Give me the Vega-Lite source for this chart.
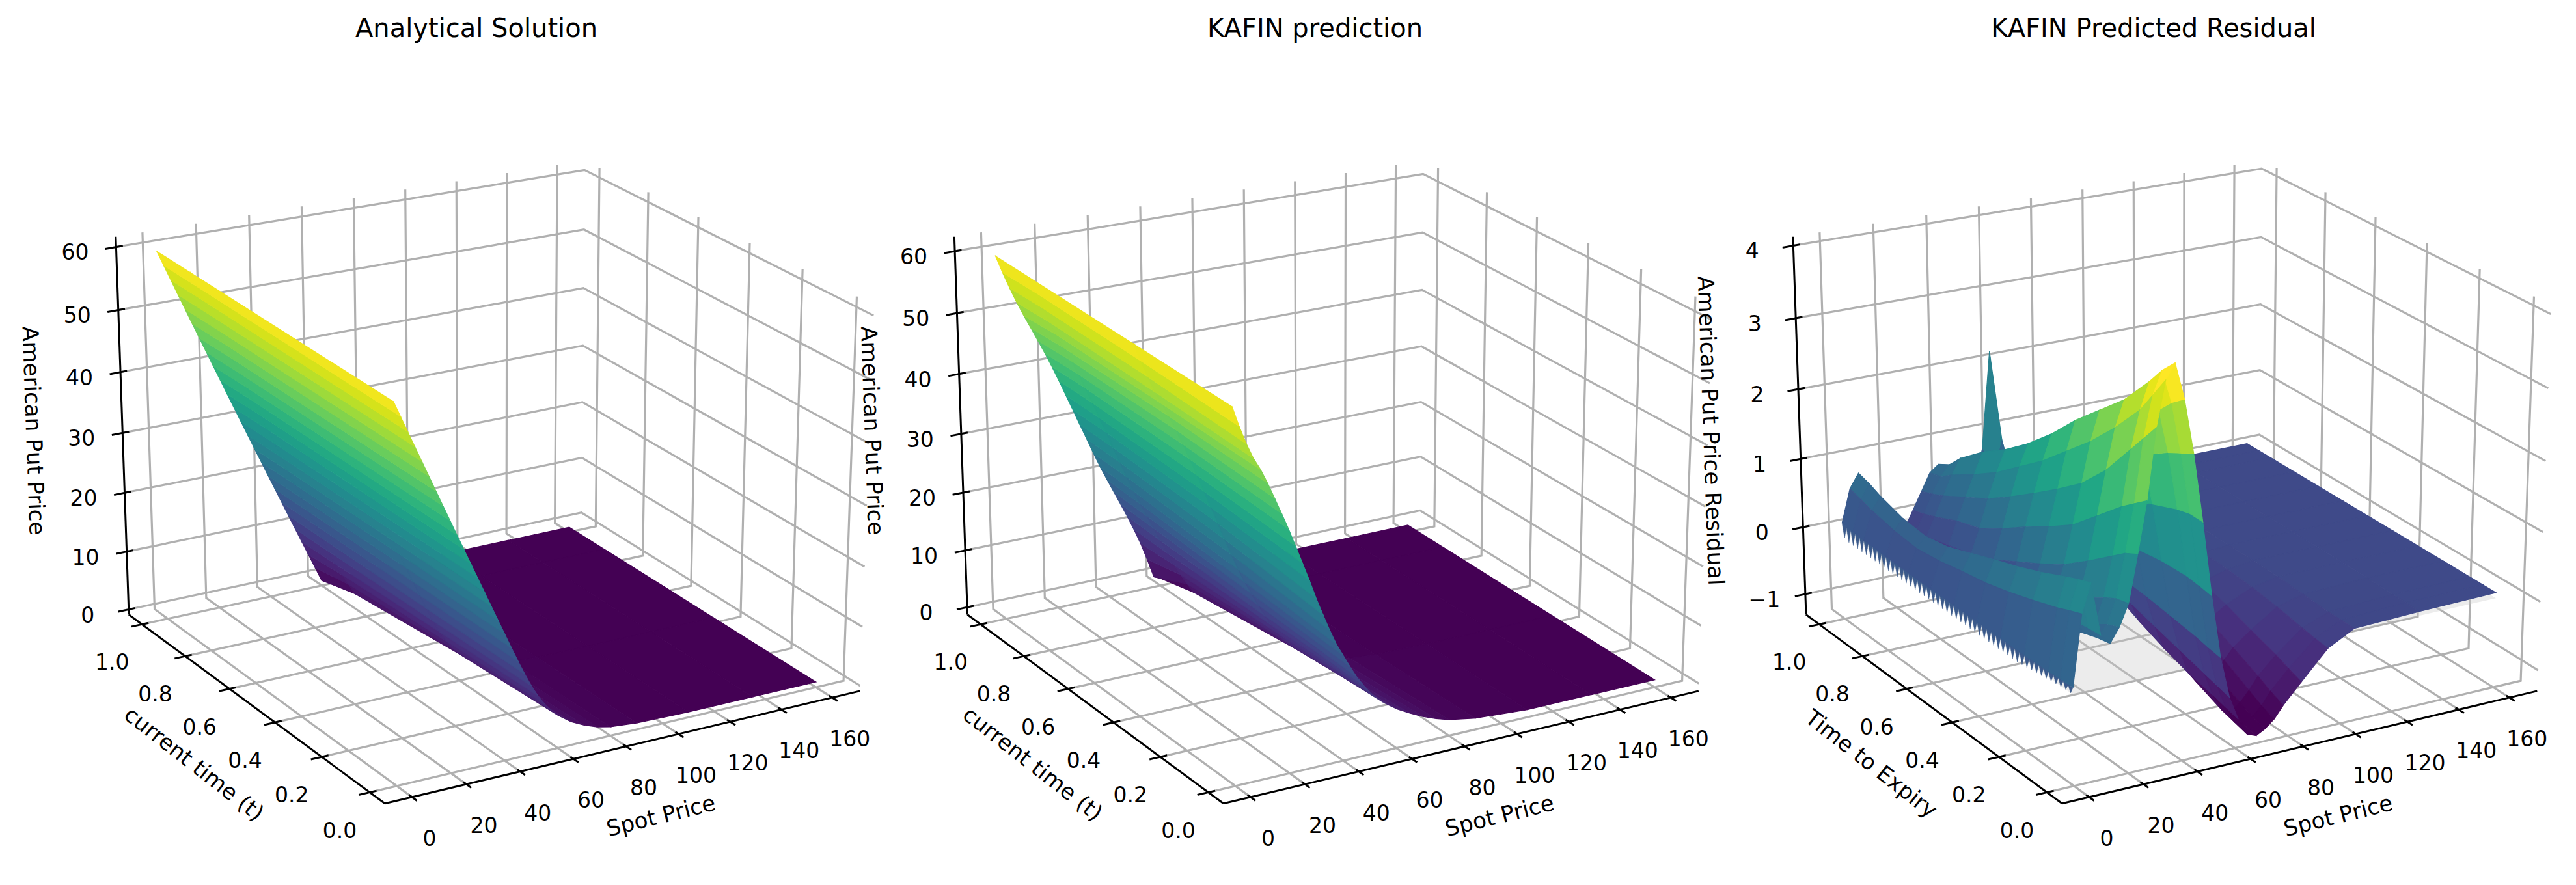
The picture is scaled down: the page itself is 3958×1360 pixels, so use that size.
{"$schema":"https://vega.github.io/schema/vega-lite/v6.json","width":3958,"height":1360,"padding":0,"autosize":{"type":"fit","contains":"padding"},"background":"white","config":{"view":{"stroke":null}},
"data":{"values":[
{"p":1,"k":"S","v":0},{"p":1,"k":"S","v":20},{"p":1,"k":"S","v":40},{"p":1,"k":"S","v":60},{"p":1,"k":"S","v":80},{"p":1,"k":"S","v":100},{"p":1,"k":"S","v":120},{"p":1,"k":"S","v":140},{"p":1,"k":"S","v":160},
{"p":2,"k":"S","v":0},{"p":2,"k":"S","v":20},{"p":2,"k":"S","v":40},{"p":2,"k":"S","v":60},{"p":2,"k":"S","v":80},{"p":2,"k":"S","v":100},{"p":2,"k":"S","v":120},{"p":2,"k":"S","v":140},{"p":2,"k":"S","v":160},
{"p":3,"k":"S","v":0},{"p":3,"k":"S","v":20},{"p":3,"k":"S","v":40},{"p":3,"k":"S","v":60},{"p":3,"k":"S","v":80},{"p":3,"k":"S","v":100},{"p":3,"k":"S","v":120},{"p":3,"k":"S","v":140},{"p":3,"k":"S","v":160},
{"p":1,"k":"T","v":0},{"p":1,"k":"T","v":0.2},{"p":1,"k":"T","v":0.4},{"p":1,"k":"T","v":0.6},{"p":1,"k":"T","v":0.8},{"p":1,"k":"T","v":1},
{"p":2,"k":"T","v":0},{"p":2,"k":"T","v":0.2},{"p":2,"k":"T","v":0.4},{"p":2,"k":"T","v":0.6},{"p":2,"k":"T","v":0.8},{"p":2,"k":"T","v":1},
{"p":3,"k":"T","v":0},{"p":3,"k":"T","v":0.2},{"p":3,"k":"T","v":0.4},{"p":3,"k":"T","v":0.6},{"p":3,"k":"T","v":0.8},{"p":3,"k":"T","v":1},
{"p":1,"k":"Z","v":0},{"p":1,"k":"Z","v":10},{"p":1,"k":"Z","v":20},{"p":1,"k":"Z","v":30},{"p":1,"k":"Z","v":40},{"p":1,"k":"Z","v":50},{"p":1,"k":"Z","v":60},
{"p":2,"k":"Z","v":0},{"p":2,"k":"Z","v":10},{"p":2,"k":"Z","v":20},{"p":2,"k":"Z","v":30},{"p":2,"k":"Z","v":40},{"p":2,"k":"Z","v":50},{"p":2,"k":"Z","v":60},
{"p":3,"k":"Z","v":-1},{"p":3,"k":"Z","v":0},{"p":3,"k":"Z","v":1},{"p":3,"k":"Z","v":2},{"p":3,"k":"Z","v":3},{"p":3,"k":"Z","v":4},
{"p":1,"k":"A","v":0},{"p":1,"k":"A","v":1},{"p":1,"k":"A","v":2},{"p":2,"k":"A","v":0},{"p":2,"k":"A","v":1},{"p":2,"k":"A","v":2},{"p":3,"k":"A","v":0},{"p":3,"k":"A","v":1},{"p":3,"k":"A","v":2},
{"p":1,"k":"H","txt":"Analytical Solution"},{"p":2,"k":"H","txt":"KAFIN prediction"},{"p":3,"k":"H","txt":"KAFIN Predicted Residual"},
{"p":1,"k":"LS","txt":"Spot Price"},{"p":2,"k":"LS","txt":"Spot Price"},{"p":3,"k":"LS","txt":"Spot Price"},
{"p":1,"k":"LT","txt":"current time (t)"},{"p":2,"k":"LT","txt":"current time (t)"},{"p":3,"k":"LT","txt":"Time to Expiry"},
{"p":1,"k":"LZ","txt":"American Put Price"},{"p":2,"k":"LZ","txt":"American Put Price"},{"p":3,"k":"LZ","txt":"American Put Price Residual"},
{"p":3,"k":"G","n":0,"S":0,"t":0,"z":0},{"p":3,"k":"G","n":1,"S":160,"t":0,"z":0},{"p":3,"k":"G","n":2,"S":160,"t":1,"z":0},{"p":3,"k":"G","n":3,"S":0,"t":1,"z":0},
{"p":3,"k":"W","S":0,"t":1,"z":0.12},{"p":3,"k":"W","S":0,"t":0.99,"z":-0.08},{"p":3,"k":"W","S":0,"t":0.98,"z":0.1},{"p":3,"k":"W","S":0,"t":0.97,"z":-0.1},{"p":3,"k":"W","S":0,"t":0.96,"z":0.1},{"p":3,"k":"W","S":0,"t":0.95,"z":-0.1},{"p":3,"k":"W","S":0,"t":0.94,"z":0.1},{"p":3,"k":"W","S":0,"t":0.93,"z":-0.1},{"p":3,"k":"W","S":0,"t":0.92,"z":0.1},{"p":3,"k":"W","S":0,"t":0.91,"z":-0.1},{"p":3,"k":"W","S":0,"t":0.9,"z":0.09},{"p":3,"k":"W","S":0,"t":0.89,"z":-0.1},{"p":3,"k":"W","S":0,"t":0.88,"z":0.09},{"p":3,"k":"W","S":0,"t":0.87,"z":-0.1},{"p":3,"k":"W","S":0,"t":0.86,"z":0.09},{"p":3,"k":"W","S":0,"t":0.85,"z":-0.1},{"p":3,"k":"W","S":0,"t":0.84,"z":0.09},{"p":3,"k":"W","S":0,"t":0.83,"z":-0.1},{"p":3,"k":"W","S":0,"t":0.82,"z":0.08},{"p":3,"k":"W","S":0,"t":0.81,"z":-0.1},{"p":3,"k":"W","S":0,"t":0.8,"z":0.08},{"p":3,"k":"W","S":0,"t":0.79,"z":-0.1},{"p":3,"k":"W","S":0,"t":0.78,"z":0.08},{"p":3,"k":"W","S":0,"t":0.77,"z":-0.1},{"p":3,"k":"W","S":0,"t":0.76,"z":0.08},{"p":3,"k":"W","S":0,"t":0.75,"z":-0.1},{"p":3,"k":"W","S":0,"t":0.74,"z":0.08},{"p":3,"k":"W","S":0,"t":0.73,"z":-0.1},{"p":3,"k":"W","S":0,"t":0.72,"z":0.08},{"p":3,"k":"W","S":0,"t":0.71,"z":-0.1},{"p":3,"k":"W","S":0,"t":0.7,"z":0.07},{"p":3,"k":"W","S":0,"t":0.69,"z":-0.1},{"p":3,"k":"W","S":0,"t":0.68,"z":0.07},{"p":3,"k":"W","S":0,"t":0.67,"z":-0.1},{"p":3,"k":"W","S":0,"t":0.66,"z":0.07},{"p":3,"k":"W","S":0,"t":0.65,"z":-0.1},{"p":3,"k":"W","S":0,"t":0.64,"z":0.07},{"p":3,"k":"W","S":0,"t":0.63,"z":-0.1},{"p":3,"k":"W","S":0,"t":0.62,"z":0.07},{"p":3,"k":"W","S":0,"t":0.61,"z":-0.1},{"p":3,"k":"W","S":0,"t":0.6,"z":0.07},{"p":3,"k":"W","S":0,"t":0.59,"z":-0.1},{"p":3,"k":"W","S":0,"t":0.58,"z":0.07},{"p":3,"k":"W","S":0,"t":0.57,"z":-0.1},{"p":3,"k":"W","S":0,"t":0.56,"z":0.07},{"p":3,"k":"W","S":0,"t":0.55,"z":-0.1},{"p":3,"k":"W","S":0,"t":0.54,"z":0.07},{"p":3,"k":"W","S":0,"t":0.53,"z":-0.1},{"p":3,"k":"W","S":0,"t":0.52,"z":0.07},{"p":3,"k":"W","S":0,"t":0.51,"z":-0.1},{"p":3,"k":"W","S":0,"t":0.5,"z":0.07},{"p":3,"k":"W","S":0,"t":0.49,"z":-0.1},{"p":3,"k":"W","S":0,"t":0.48,"z":0.07},{"p":3,"k":"W","S":0,"t":0.47,"z":-0.1},{"p":3,"k":"W","S":0,"t":0.46,"z":0.07},{"p":3,"k":"W","S":0,"t":0.45,"z":-0.1},{"p":3,"k":"W","S":0,"t":0.44,"z":0.07},{"p":3,"k":"W","S":0,"t":0.43,"z":-0.1},{"p":3,"k":"W","S":0,"t":0.42,"z":0.07},{"p":3,"k":"W","S":0,"t":0.41,"z":-0.1},{"p":3,"k":"W","S":0,"t":0.4,"z":0.07},{"p":3,"k":"W","S":0,"t":0.39,"z":-0.1},{"p":3,"k":"W","S":0,"t":0.38,"z":0.07},{"p":3,"k":"W","S":0,"t":0.37,"z":-0.1},{"p":3,"k":"W","S":0,"t":0.36,"z":0.07},{"p":3,"k":"W","S":0,"t":0.35,"z":-0.1},{"p":3,"k":"W","S":0,"t":0.34,"z":0.07},{"p":3,"k":"W","S":0,"t":0.33,"z":-0.1},{"p":3,"k":"W","S":0,"t":0.32,"z":0.07},{"p":3,"k":"W","S":0,"t":0.31,"z":-0.1},{"p":3,"k":"W","S":0,"t":0.3,"z":0.07},{"p":3,"k":"W","S":0,"t":0.29,"z":-0.1},{"p":3,"k":"W","S":0,"t":0.28,"z":0.07},{"p":3,"k":"W","S":0,"t":0.27,"z":-0.1},{"p":3,"k":"W","S":0,"t":0.26,"z":0.07},{"p":3,"k":"W","S":0,"t":0.25,"z":-0.1},{"p":3,"k":"W","S":0,"t":0.24,"z":0.07},{"p":3,"k":"W","S":0,"t":0.23,"z":-0.1},{"p":3,"k":"W","S":0,"t":0.22,"z":0.07},{"p":3,"k":"W","S":0,"t":0.21,"z":-0.09},{"p":3,"k":"W","S":0,"t":0.2,"z":0.07},{"p":3,"k":"W","S":0,"t":0.19,"z":-0.08},{"p":3,"k":"W","S":0,"t":0.18,"z":0.07},{"p":3,"k":"W","S":0,"t":0.17,"z":-0.07},{"p":3,"k":"W","S":0,"t":0.16,"z":0.07},{"p":3,"k":"W","S":0,"t":0.15,"z":-0.06},{"p":3,"k":"W","S":0,"t":0.14,"z":0.08},{"p":3,"k":"W","S":0,"t":0.13,"z":-0.05},{"p":3,"k":"W","S":0,"t":0.12,"z":0.08},{"p":3,"k":"W","S":0,"t":0.11,"z":-0.04},{"p":3,"k":"W","S":0,"t":0.1,"z":0.08},{"p":3,"k":"W","S":0,"t":0.09,"z":-0.03},{"p":3,"k":"W","S":0,"t":0.08,"z":0.08},{"p":3,"k":"W","S":0,"t":0.07,"z":-0.02},{"p":3,"k":"W","S":0,"t":0.06,"z":0.09},{"p":3,"k":"W","S":0,"t":0.05,"z":-0.01},{"p":3,"k":"W","S":0,"t":0.04,"z":0.09},{"p":3,"k":"W","S":0,"t":0.03,"z":0},{"p":3,"k":"W","S":0,"t":0.02,"z":0.09},{"p":3,"k":"W","S":0,"t":0.01,"z":0},{"p":3,"k":"W","S":0,"t":0,"z":0.1},

{"p":1,"S":160,"t":1,"z":0},{"p":1,"S":160,"t":0.85,"z":0},{"p":1,"S":160,"t":0.4,"z":0},{"p":1,"S":160,"t":0,"z":0},
{"p":1,"S":135,"t":1,"z":0},{"p":1,"S":135,"t":0.85,"z":0},{"p":1,"S":135,"t":0.4,"z":0},{"p":1,"S":135,"t":0,"z":0},
{"p":1,"S":110,"t":1,"z":0},{"p":1,"S":110,"t":0.85,"z":0},{"p":1,"S":110,"t":0.4,"z":0},{"p":1,"S":110,"t":0,"z":0},
{"p":1,"S":90,"t":1,"z":0},{"p":1,"S":90,"t":0.85,"z":0},{"p":1,"S":90,"t":0.4,"z":0.07},{"p":1,"S":90,"t":0,"z":0.2},
{"p":1,"S":80,"t":1,"z":0},{"p":1,"S":80,"t":0.85,"z":0},{"p":1,"S":80,"t":0.4,"z":0.3},{"p":1,"S":80,"t":0,"z":0.6},
{"p":1,"S":75,"t":1,"z":0},{"p":1,"S":75,"t":0.85,"z":0.05},{"p":1,"S":75,"t":0.4,"z":0.6},{"p":1,"S":75,"t":0,"z":1.1},
{"p":1,"S":70,"t":1,"z":0},{"p":1,"S":70,"t":0.85,"z":0.2},{"p":1,"S":70,"t":0.4,"z":1.1},{"p":1,"S":70,"t":0,"z":1.9},
{"p":1,"S":65,"t":1,"z":0},{"p":1,"S":65,"t":0.85,"z":0.6},{"p":1,"S":65,"t":0.4,"z":2},{"p":1,"S":65,"t":0,"z":3},
{"p":1,"S":60,"t":1,"z":0},{"p":1,"S":60,"t":0.85,"z":1.7},{"p":1,"S":60,"t":0.4,"z":3.6},{"p":1,"S":60,"t":0,"z":4.6},
{"p":1,"S":57.5,"t":1,"z":2.5},{"p":1,"S":57.5,"t":0.85,"z":3.6},{"p":1,"S":57.5,"t":0.4,"z":4.8},{"p":1,"S":57.5,"t":0,"z":5.7},
{"p":1,"S":55,"t":1,"z":5},{"p":1,"S":55,"t":0.85,"z":5.5},{"p":1,"S":55,"t":0.4,"z":6.3},{"p":1,"S":55,"t":0,"z":7},
{"p":1,"S":52.5,"t":1,"z":7.5},{"p":1,"S":52.5,"t":0.85,"z":7.6},{"p":1,"S":52.5,"t":0.4,"z":8.1},{"p":1,"S":52.5,"t":0,"z":8.6},
{"p":1,"S":50,"t":1,"z":10},{"p":1,"S":50,"t":0.85,"z":10},{"p":1,"S":50,"t":0.4,"z":10.2},{"p":1,"S":50,"t":0,"z":10.5},
{"p":1,"S":47.5,"t":1,"z":12.5},{"p":1,"S":47.5,"t":0.85,"z":12.5},{"p":1,"S":47.5,"t":0.4,"z":12.55},{"p":1,"S":47.5,"t":0,"z":12.7},
{"p":1,"S":45,"t":1,"z":15},{"p":1,"S":45,"t":0.85,"z":15},{"p":1,"S":45,"t":0.4,"z":15},{"p":1,"S":45,"t":0,"z":15.05},
{"p":1,"S":42.5,"t":1,"z":17.5},{"p":1,"S":42.5,"t":0.85,"z":17.5},{"p":1,"S":42.5,"t":0.4,"z":17.5},{"p":1,"S":42.5,"t":0,"z":17.5},
{"p":1,"S":40,"t":1,"z":20},{"p":1,"S":40,"t":0.85,"z":20},{"p":1,"S":40,"t":0.4,"z":20},{"p":1,"S":40,"t":0,"z":20},
{"p":1,"S":37.5,"t":1,"z":22.5},{"p":1,"S":37.5,"t":0.85,"z":22.5},{"p":1,"S":37.5,"t":0.4,"z":22.5},{"p":1,"S":37.5,"t":0,"z":22.5},
{"p":1,"S":35,"t":1,"z":25},{"p":1,"S":35,"t":0.85,"z":25},{"p":1,"S":35,"t":0.4,"z":25},{"p":1,"S":35,"t":0,"z":25},
{"p":1,"S":32.5,"t":1,"z":27.5},{"p":1,"S":32.5,"t":0.85,"z":27.5},{"p":1,"S":32.5,"t":0.4,"z":27.5},{"p":1,"S":32.5,"t":0,"z":27.5},
{"p":1,"S":30,"t":1,"z":30},{"p":1,"S":30,"t":0.85,"z":30},{"p":1,"S":30,"t":0.4,"z":30},{"p":1,"S":30,"t":0,"z":30},
{"p":1,"S":27.5,"t":1,"z":32.5},{"p":1,"S":27.5,"t":0.85,"z":32.5},{"p":1,"S":27.5,"t":0.4,"z":32.5},{"p":1,"S":27.5,"t":0,"z":32.5},
{"p":1,"S":25,"t":1,"z":35},{"p":1,"S":25,"t":0.85,"z":35},{"p":1,"S":25,"t":0.4,"z":35},{"p":1,"S":25,"t":0,"z":35},
{"p":1,"S":22.5,"t":1,"z":37.5},{"p":1,"S":22.5,"t":0.85,"z":37.5},{"p":1,"S":22.5,"t":0.4,"z":37.5},{"p":1,"S":22.5,"t":0,"z":37.5},
{"p":1,"S":20,"t":1,"z":40},{"p":1,"S":20,"t":0.85,"z":40},{"p":1,"S":20,"t":0.4,"z":40},{"p":1,"S":20,"t":0,"z":40},
{"p":1,"S":17.5,"t":1,"z":42.5},{"p":1,"S":17.5,"t":0.85,"z":42.5},{"p":1,"S":17.5,"t":0.4,"z":42.5},{"p":1,"S":17.5,"t":0,"z":42.5},
{"p":1,"S":15,"t":1,"z":45},{"p":1,"S":15,"t":0.85,"z":45},{"p":1,"S":15,"t":0.4,"z":45},{"p":1,"S":15,"t":0,"z":45},
{"p":1,"S":12.5,"t":1,"z":47.5},{"p":1,"S":12.5,"t":0.85,"z":47.5},{"p":1,"S":12.5,"t":0.4,"z":47.5},{"p":1,"S":12.5,"t":0,"z":47.5},
{"p":1,"S":10,"t":1,"z":50},{"p":1,"S":10,"t":0.85,"z":50},{"p":1,"S":10,"t":0.4,"z":50},{"p":1,"S":10,"t":0,"z":50},
{"p":1,"S":7.5,"t":1,"z":52.5},{"p":1,"S":7.5,"t":0.85,"z":52.5},{"p":1,"S":7.5,"t":0.4,"z":52.5},{"p":1,"S":7.5,"t":0,"z":52.5},
{"p":1,"S":5,"t":1,"z":55},{"p":1,"S":5,"t":0.85,"z":55},{"p":1,"S":5,"t":0.4,"z":55},{"p":1,"S":5,"t":0,"z":55},
{"p":1,"S":2.5,"t":1,"z":57.5},{"p":1,"S":2.5,"t":0.85,"z":57.5},{"p":1,"S":2.5,"t":0.4,"z":57.5},{"p":1,"S":2.5,"t":0,"z":57.5},
{"p":1,"S":0,"t":1,"z":60},{"p":1,"S":0,"t":0.85,"z":60},{"p":1,"S":0,"t":0.4,"z":60},{"p":1,"S":0,"t":0,"z":60},

{"p":2,"S":160,"t":1,"z":0},{"p":2,"S":160,"t":0.85,"z":0},{"p":2,"S":160,"t":0.4,"z":0},{"p":2,"S":160,"t":0,"z":0},
{"p":2,"S":135,"t":1,"z":0},{"p":2,"S":135,"t":0.85,"z":0},{"p":2,"S":135,"t":0.4,"z":0},{"p":2,"S":135,"t":0,"z":0},
{"p":2,"S":110,"t":1,"z":0},{"p":2,"S":110,"t":0.85,"z":0},{"p":2,"S":110,"t":0.4,"z":0},{"p":2,"S":110,"t":0,"z":0},
{"p":2,"S":90,"t":1,"z":0},{"p":2,"S":90,"t":0.85,"z":0},{"p":2,"S":90,"t":0.4,"z":0.15},{"p":2,"S":90,"t":0,"z":0.65},
{"p":2,"S":80,"t":1,"z":0},{"p":2,"S":80,"t":0.85,"z":0},{"p":2,"S":80,"t":0.4,"z":0.5},{"p":2,"S":80,"t":0,"z":1.45},
{"p":2,"S":75,"t":1,"z":0},{"p":2,"S":75,"t":0.85,"z":0.05},{"p":2,"S":75,"t":0.4,"z":0.95},{"p":2,"S":75,"t":0,"z":2.15},
{"p":2,"S":70,"t":1,"z":0},{"p":2,"S":70,"t":0.85,"z":0.2},{"p":2,"S":70,"t":0.4,"z":1.75},{"p":2,"S":70,"t":0,"z":3.05},
{"p":2,"S":65,"t":1,"z":0},{"p":2,"S":65,"t":0.85,"z":0.57},{"p":2,"S":65,"t":0.4,"z":2.55},{"p":2,"S":65,"t":0,"z":4.15},
{"p":2,"S":60,"t":1,"z":0},{"p":2,"S":60,"t":0.85,"z":1.6},{"p":2,"S":60,"t":0.4,"z":3.95},{"p":2,"S":60,"t":0,"z":5.4},
{"p":2,"S":57.5,"t":1,"z":0.5},{"p":2,"S":57.5,"t":0.85,"z":3.35},{"p":2,"S":57.5,"t":0.4,"z":4.9},{"p":2,"S":57.5,"t":0,"z":6.2},
{"p":2,"S":55,"t":1,"z":3.9},{"p":2,"S":55,"t":0.85,"z":5.2},{"p":2,"S":55,"t":0.4,"z":6.1},{"p":2,"S":55,"t":0,"z":7},
{"p":2,"S":52.5,"t":1,"z":7},{"p":2,"S":52.5,"t":0.85,"z":7.2},{"p":2,"S":52.5,"t":0.4,"z":7.55},{"p":2,"S":52.5,"t":0,"z":8.05},
{"p":2,"S":50,"t":1,"z":9.73},{"p":2,"S":50,"t":0.85,"z":9.5},{"p":2,"S":50,"t":0.4,"z":9.25},{"p":2,"S":50,"t":0,"z":9.25},
{"p":2,"S":47.5,"t":1,"z":12.25},{"p":2,"S":47.5,"t":0.85,"z":11.9},{"p":2,"S":47.5,"t":0.4,"z":11.1},{"p":2,"S":47.5,"t":0,"z":10.7},
{"p":2,"S":45,"t":1,"z":14.65},{"p":2,"S":45,"t":0.85,"z":14.25},{"p":2,"S":45,"t":0.4,"z":13.15},{"p":2,"S":45,"t":0,"z":12.35},
{"p":2,"S":42.5,"t":1,"z":17},{"p":2,"S":42.5,"t":0.85,"z":16.6},{"p":2,"S":42.5,"t":0.4,"z":15.35},{"p":2,"S":42.5,"t":0,"z":14.3},
{"p":2,"S":40,"t":1,"z":19.35},{"p":2,"S":40,"t":0.85,"z":18.95},{"p":2,"S":40,"t":0.4,"z":17.55},{"p":2,"S":40,"t":0,"z":16.4},
{"p":2,"S":37.5,"t":1,"z":21.75},{"p":2,"S":37.5,"t":0.85,"z":21.35},{"p":2,"S":37.5,"t":0.4,"z":19.9},{"p":2,"S":37.5,"t":0,"z":18.5},
{"p":2,"S":35,"t":1,"z":24.35},{"p":2,"S":35,"t":0.85,"z":24},{"p":2,"S":35,"t":0.4,"z":22.7},{"p":2,"S":35,"t":0,"z":21.1},
{"p":2,"S":32.5,"t":1,"z":27.05},{"p":2,"S":32.5,"t":0.85,"z":26.7},{"p":2,"S":32.5,"t":0.4,"z":25.5},{"p":2,"S":32.5,"t":0,"z":23.9},
{"p":2,"S":30,"t":1,"z":29.7},{"p":2,"S":30,"t":0.85,"z":29.45},{"p":2,"S":30,"t":0.4,"z":28.4},{"p":2,"S":30,"t":0,"z":26.8},
{"p":2,"S":27.5,"t":1,"z":32.4},{"p":2,"S":27.5,"t":0.85,"z":32.2},{"p":2,"S":27.5,"t":0.4,"z":31.25},{"p":2,"S":27.5,"t":0,"z":30},
{"p":2,"S":25,"t":1,"z":35.05},{"p":2,"S":25,"t":0.85,"z":34.85},{"p":2,"S":25,"t":0.4,"z":34.1},{"p":2,"S":25,"t":0,"z":33},
{"p":2,"S":22.5,"t":1,"z":37.7},{"p":2,"S":22.5,"t":0.85,"z":37.55},{"p":2,"S":22.5,"t":0.4,"z":36.95},{"p":2,"S":22.5,"t":0,"z":36},
{"p":2,"S":20,"t":1,"z":40.25},{"p":2,"S":20,"t":0.85,"z":40.2},{"p":2,"S":20,"t":0.4,"z":39.75},{"p":2,"S":20,"t":0,"z":38.95},
{"p":2,"S":17.5,"t":1,"z":42.65},{"p":2,"S":17.5,"t":0.85,"z":42.7},{"p":2,"S":17.5,"t":0.4,"z":42.4},{"p":2,"S":17.5,"t":0,"z":41.65},
{"p":2,"S":15,"t":1,"z":44.95},{"p":2,"S":15,"t":0.85,"z":45.1},{"p":2,"S":15,"t":0.4,"z":44.95},{"p":2,"S":15,"t":0,"z":44.3},
{"p":2,"S":12.5,"t":1,"z":47.2},{"p":2,"S":12.5,"t":0.85,"z":47.4},{"p":2,"S":12.5,"t":0.4,"z":47.35},{"p":2,"S":12.5,"t":0,"z":46.9},
{"p":2,"S":10,"t":1,"z":49.4},{"p":2,"S":10,"t":0.85,"z":49.7},{"p":2,"S":10,"t":0.4,"z":49.55},{"p":2,"S":10,"t":0,"z":49.25},
{"p":2,"S":7.5,"t":1,"z":51.75},{"p":2,"S":7.5,"t":0.85,"z":51.95},{"p":2,"S":7.5,"t":0.4,"z":51.65},{"p":2,"S":7.5,"t":0,"z":51.2},
{"p":2,"S":5,"t":1,"z":54.3},{"p":2,"S":5,"t":0.85,"z":54.45},{"p":2,"S":5,"t":0.4,"z":54.25},{"p":2,"S":5,"t":0,"z":53.7},
{"p":2,"S":2.5,"t":1,"z":57},{"p":2,"S":2.5,"t":0.85,"z":57.15},{"p":2,"S":2.5,"t":0.4,"z":57},{"p":2,"S":2.5,"t":0,"z":56.6},
{"p":2,"S":0,"t":1,"z":59.9},{"p":2,"S":0,"t":0.85,"z":59.9},{"p":2,"S":0,"t":0.4,"z":59.9},{"p":2,"S":0,"t":0,"z":59.9},

{"p":3,"S":160,"t":1,"z":0.08},{"p":3,"S":160,"t":0.95,"z":0.08},{"p":3,"S":160,"t":0.9,"z":0.08},{"p":3,"S":160,"t":0.8,"z":0.08},{"p":3,"S":160,"t":0.7,"z":0.08},{"p":3,"S":160,"t":0.6,"z":0.08},{"p":3,"S":160,"t":0.5,"z":0.08},{"p":3,"S":160,"t":0.4,"z":0.08},{"p":3,"S":160,"t":0.3,"z":0.08},{"p":3,"S":160,"t":0.2,"z":0.08},{"p":3,"S":160,"t":0.1,"z":0.08},{"p":3,"S":160,"t":0.05,"z":0.08},{"p":3,"S":160,"t":0,"z":0.08},
{"p":3,"S":130,"t":1,"z":0.08},{"p":3,"S":130,"t":0.95,"z":0.08},{"p":3,"S":130,"t":0.9,"z":0.08},{"p":3,"S":130,"t":0.8,"z":0.08},{"p":3,"S":130,"t":0.7,"z":0.08},{"p":3,"S":130,"t":0.6,"z":0.08},{"p":3,"S":130,"t":0.5,"z":0.08},{"p":3,"S":130,"t":0.4,"z":0.08},{"p":3,"S":130,"t":0.3,"z":0.08},{"p":3,"S":130,"t":0.2,"z":0.08},{"p":3,"S":130,"t":0.1,"z":0.07},{"p":3,"S":130,"t":0.05,"z":0.07},{"p":3,"S":130,"t":0,"z":0.06},
{"p":3,"S":105,"t":1,"z":0.08},{"p":3,"S":105,"t":0.95,"z":0.08},{"p":3,"S":105,"t":0.9,"z":0.08},{"p":3,"S":105,"t":0.8,"z":0.08},{"p":3,"S":105,"t":0.7,"z":0.08},{"p":3,"S":105,"t":0.6,"z":0.08},{"p":3,"S":105,"t":0.5,"z":0.08},{"p":3,"S":105,"t":0.4,"z":0.08},{"p":3,"S":105,"t":0.3,"z":0.07},{"p":3,"S":105,"t":0.2,"z":0.05},{"p":3,"S":105,"t":0.1,"z":0.03},{"p":3,"S":105,"t":0.05,"z":0.03},{"p":3,"S":105,"t":0,"z":0.03},
{"p":3,"S":95,"t":1,"z":0.08},{"p":3,"S":95,"t":0.95,"z":0.08},{"p":3,"S":95,"t":0.9,"z":0.08},{"p":3,"S":95,"t":0.8,"z":0.08},{"p":3,"S":95,"t":0.7,"z":0.08},{"p":3,"S":95,"t":0.6,"z":0.07},{"p":3,"S":95,"t":0.5,"z":0.05},{"p":3,"S":95,"t":0.4,"z":0.03},{"p":3,"S":95,"t":0.3,"z":0},{"p":3,"S":95,"t":0.2,"z":-0.05},{"p":3,"S":95,"t":0.1,"z":-0.12},{"p":3,"S":95,"t":0.05,"z":-0.15},{"p":3,"S":95,"t":0,"z":-0.17},
{"p":3,"S":85,"t":1,"z":0.08},{"p":3,"S":85,"t":0.95,"z":0.08},{"p":3,"S":85,"t":0.9,"z":0.08},{"p":3,"S":85,"t":0.8,"z":0.08},{"p":3,"S":85,"t":0.7,"z":0.08},{"p":3,"S":85,"t":0.6,"z":0.05},{"p":3,"S":85,"t":0.5,"z":0},{"p":3,"S":85,"t":0.4,"z":-0.07},{"p":3,"S":85,"t":0.3,"z":-0.17},{"p":3,"S":85,"t":0.2,"z":-0.3},{"p":3,"S":85,"t":0.1,"z":-0.42},{"p":3,"S":85,"t":0.05,"z":-0.5},{"p":3,"S":85,"t":0,"z":-0.57},
{"p":3,"S":78.2,"t":1,"z":0.08},{"p":3,"S":78.2,"t":0.95,"z":0.08},{"p":3,"S":78.2,"t":0.9,"z":0.08},{"p":3,"S":78.2,"t":0.8,"z":0.08},{"p":3,"S":78.2,"t":0.7,"z":0.08},{"p":3,"S":78.2,"t":0.6,"z":0.02},{"p":3,"S":78.2,"t":0.5,"z":-0.07},{"p":3,"S":78.2,"t":0.4,"z":-0.17},{"p":3,"S":78.2,"t":0.3,"z":-0.33},{"p":3,"S":78.2,"t":0.2,"z":-0.5},{"p":3,"S":78.2,"t":0.1,"z":-0.67},{"p":3,"S":78.2,"t":0.05,"z":-0.77},{"p":3,"S":78.2,"t":0,"z":-0.85},
{"p":3,"S":74.8,"t":1,"z":0.08},{"p":3,"S":74.8,"t":0.95,"z":0.08},{"p":3,"S":74.8,"t":0.9,"z":0.08},{"p":3,"S":74.8,"t":0.8,"z":0.08},{"p":3,"S":74.8,"t":0.7,"z":0.05},{"p":3,"S":74.8,"t":0.6,"z":-0.03},{"p":3,"S":74.8,"t":0.5,"z":-0.15},{"p":3,"S":74.8,"t":0.4,"z":-0.28},{"p":3,"S":74.8,"t":0.3,"z":-0.45},{"p":3,"S":74.8,"t":0.2,"z":-0.65},{"p":3,"S":74.8,"t":0.1,"z":-0.85},{"p":3,"S":74.8,"t":0.05,"z":-0.95},{"p":3,"S":74.8,"t":0,"z":-1.02},
{"p":3,"S":71.4,"t":1,"z":0.05},{"p":3,"S":71.4,"t":0.95,"z":0.05},{"p":3,"S":71.4,"t":0.9,"z":0.05},{"p":3,"S":71.4,"t":0.8,"z":0.05},{"p":3,"S":71.4,"t":0.7,"z":0},{"p":3,"S":71.4,"t":0.6,"z":-0.1},{"p":3,"S":71.4,"t":0.5,"z":-0.25},{"p":3,"S":71.4,"t":0.4,"z":-0.4},{"p":3,"S":71.4,"t":0.3,"z":-0.6},{"p":3,"S":71.4,"t":0.2,"z":-0.82},{"p":3,"S":71.4,"t":0.1,"z":-1},{"p":3,"S":71.4,"t":0.05,"z":-1.08},{"p":3,"S":71.4,"t":0,"z":-1.13},
{"p":3,"S":68,"t":1,"z":0.03},{"p":3,"S":68,"t":0.95,"z":0.03},{"p":3,"S":68,"t":0.9,"z":0.03},{"p":3,"S":68,"t":0.8,"z":0.03},{"p":3,"S":68,"t":0.7,"z":-0.03},{"p":3,"S":68,"t":0.6,"z":-0.17},{"p":3,"S":68,"t":0.5,"z":-0.35},{"p":3,"S":68,"t":0.4,"z":-0.55},{"p":3,"S":68,"t":0.3,"z":-0.75},{"p":3,"S":68,"t":0.2,"z":-0.95},{"p":3,"S":68,"t":0.1,"z":-1.1},{"p":3,"S":68,"t":0.05,"z":-1.16},{"p":3,"S":68,"t":0,"z":-1.2},
{"p":3,"S":64.6,"t":1,"z":0.1},{"p":3,"S":64.6,"t":0.95,"z":0.08},{"p":3,"S":64.6,"t":0.9,"z":0.05},{"p":3,"S":64.6,"t":0.8,"z":0.02},{"p":3,"S":64.6,"t":0.7,"z":-0.05},{"p":3,"S":64.6,"t":0.6,"z":-0.18},{"p":3,"S":64.6,"t":0.5,"z":-0.35},{"p":3,"S":64.6,"t":0.4,"z":-0.55},{"p":3,"S":64.6,"t":0.3,"z":-0.72},{"p":3,"S":64.6,"t":0.2,"z":-0.9},{"p":3,"S":64.6,"t":0.1,"z":-1.05},{"p":3,"S":64.6,"t":0.05,"z":-1.1},{"p":3,"S":64.6,"t":0,"z":-1.15},
{"p":3,"S":61.2,"t":1,"z":0.6},{"p":3,"S":61.2,"t":0.95,"z":0.4},{"p":3,"S":61.2,"t":0.9,"z":0.25},{"p":3,"S":61.2,"t":0.8,"z":0.05},{"p":3,"S":61.2,"t":0.7,"z":0},{"p":3,"S":61.2,"t":0.6,"z":-0.13},{"p":3,"S":61.2,"t":0.5,"z":-0.28},{"p":3,"S":61.2,"t":0.4,"z":-0.45},{"p":3,"S":61.2,"t":0.3,"z":-0.6},{"p":3,"S":61.2,"t":0.2,"z":-0.72},{"p":3,"S":61.2,"t":0.1,"z":-0.8},{"p":3,"S":61.2,"t":0.05,"z":-0.85},{"p":3,"S":61.2,"t":0,"z":-0.9},
{"p":3,"S":57.8,"t":1,"z":2.2},{"p":3,"S":57.8,"t":0.95,"z":1},{"p":3,"S":57.8,"t":0.9,"z":0.5},{"p":3,"S":57.8,"t":0.8,"z":0.15},{"p":3,"S":57.8,"t":0.7,"z":0.1},{"p":3,"S":57.8,"t":0.6,"z":0.03},{"p":3,"S":57.8,"t":0.5,"z":-0.05},{"p":3,"S":57.8,"t":0.4,"z":-0.15},{"p":3,"S":57.8,"t":0.3,"z":-0.25},{"p":3,"S":57.8,"t":0.2,"z":-0.35},{"p":3,"S":57.8,"t":0.1,"z":-0.45},{"p":3,"S":57.8,"t":0.05,"z":-0.5},{"p":3,"S":57.8,"t":0,"z":-0.55},
{"p":3,"S":54.4,"t":1,"z":0.8},{"p":3,"S":54.4,"t":0.95,"z":0.5},{"p":3,"S":54.4,"t":0.9,"z":0.42},{"p":3,"S":54.4,"t":0.8,"z":0.32},{"p":3,"S":54.4,"t":0.7,"z":0.3},{"p":3,"S":54.4,"t":0.6,"z":0.3},{"p":3,"S":54.4,"t":0.5,"z":0.28},{"p":3,"S":54.4,"t":0.4,"z":0.25},{"p":3,"S":54.4,"t":0.3,"z":0.22},{"p":3,"S":54.4,"t":0.2,"z":0.17},{"p":3,"S":54.4,"t":0.1,"z":0.12},{"p":3,"S":54.4,"t":0.05,"z":0.08},{"p":3,"S":54.4,"t":0,"z":0.05},
{"p":3,"S":51,"t":1,"z":0.3},{"p":3,"S":51,"t":0.95,"z":0.35},{"p":3,"S":51,"t":0.9,"z":0.42},{"p":3,"S":51,"t":0.8,"z":0.55},{"p":3,"S":51,"t":0.7,"z":0.6},{"p":3,"S":51,"t":0.6,"z":0.67},{"p":3,"S":51,"t":0.5,"z":0.75},{"p":3,"S":51,"t":0.4,"z":0.85},{"p":3,"S":51,"t":0.3,"z":0.92},{"p":3,"S":51,"t":0.2,"z":0.98},{"p":3,"S":51,"t":0.1,"z":1},{"p":3,"S":51,"t":0.05,"z":0.98},{"p":3,"S":51,"t":0,"z":0.95},
{"p":3,"S":47.6,"t":1,"z":0.25},{"p":3,"S":47.6,"t":0.95,"z":0.35},{"p":3,"S":47.6,"t":0.9,"z":0.5},{"p":3,"S":47.6,"t":0.8,"z":0.7},{"p":3,"S":47.6,"t":0.7,"z":0.85},{"p":3,"S":47.6,"t":0.6,"z":1.05},{"p":3,"S":47.6,"t":0.5,"z":1.25},{"p":3,"S":47.6,"t":0.4,"z":1.45},{"p":3,"S":47.6,"t":0.3,"z":1.62},{"p":3,"S":47.6,"t":0.2,"z":1.8},{"p":3,"S":47.6,"t":0.1,"z":1.95},{"p":3,"S":47.6,"t":0.05,"z":2},{"p":3,"S":47.6,"t":0,"z":2},
{"p":3,"S":44.2,"t":1,"z":0.4},{"p":3,"S":44.2,"t":0.95,"z":0.5},{"p":3,"S":44.2,"t":0.9,"z":0.65},{"p":3,"S":44.2,"t":0.8,"z":0.92},{"p":3,"S":44.2,"t":0.7,"z":1.15},{"p":3,"S":44.2,"t":0.6,"z":1.42},{"p":3,"S":44.2,"t":0.5,"z":1.68},{"p":3,"S":44.2,"t":0.4,"z":1.95},{"p":3,"S":44.2,"t":0.3,"z":2.2},{"p":3,"S":44.2,"t":0.2,"z":2.5},{"p":3,"S":44.2,"t":0.1,"z":2.75},{"p":3,"S":44.2,"t":0.05,"z":2.85},{"p":3,"S":44.2,"t":0,"z":2.95},
{"p":3,"S":40.8,"t":1,"z":0.6},{"p":3,"S":40.8,"t":0.95,"z":0.7},{"p":3,"S":40.8,"t":0.9,"z":0.85},{"p":3,"S":40.8,"t":0.8,"z":1.15},{"p":3,"S":40.8,"t":0.7,"z":1.4},{"p":3,"S":40.8,"t":0.6,"z":1.7},{"p":3,"S":40.8,"t":0.5,"z":2},{"p":3,"S":40.8,"t":0.4,"z":2.35},{"p":3,"S":40.8,"t":0.3,"z":2.7},{"p":3,"S":40.8,"t":0.2,"z":3},{"p":3,"S":40.8,"t":0.1,"z":3.35},{"p":3,"S":40.8,"t":0.05,"z":3.55},{"p":3,"S":40.8,"t":0,"z":3.7},
{"p":3,"S":37.4,"t":1,"z":0.7},{"p":3,"S":37.4,"t":0.95,"z":0.8},{"p":3,"S":37.4,"t":0.9,"z":1},{"p":3,"S":37.4,"t":0.8,"z":1.3},{"p":3,"S":37.4,"t":0.7,"z":1.55},{"p":3,"S":37.4,"t":0.6,"z":1.85},{"p":3,"S":37.4,"t":0.5,"z":2.2},{"p":3,"S":37.4,"t":0.4,"z":2.6},{"p":3,"S":37.4,"t":0.3,"z":2.95},{"p":3,"S":37.4,"t":0.2,"z":3.3},{"p":3,"S":37.4,"t":0.1,"z":3.75},{"p":3,"S":37.4,"t":0.05,"z":4},{"p":3,"S":37.4,"t":0,"z":4.2},
{"p":3,"S":34,"t":1,"z":0.6},{"p":3,"S":34,"t":0.95,"z":0.65},{"p":3,"S":34,"t":0.9,"z":0.78},{"p":3,"S":34,"t":0.8,"z":1},{"p":3,"S":34,"t":0.7,"z":1.25},{"p":3,"S":34,"t":0.6,"z":1.55},{"p":3,"S":34,"t":0.5,"z":1.85},{"p":3,"S":34,"t":0.4,"z":2.2},{"p":3,"S":34,"t":0.3,"z":2.55},{"p":3,"S":34,"t":0.2,"z":2.95},{"p":3,"S":34,"t":0.1,"z":3.4},{"p":3,"S":34,"t":0.05,"z":3.7},{"p":3,"S":34,"t":0,"z":4},
{"p":3,"S":30.6,"t":1,"z":0.35},{"p":3,"S":30.6,"t":0.95,"z":0.42},{"p":3,"S":30.6,"t":0.9,"z":0.5},{"p":3,"S":30.6,"t":0.8,"z":0.7},{"p":3,"S":30.6,"t":0.7,"z":0.9},{"p":3,"S":30.6,"t":0.6,"z":1.15},{"p":3,"S":30.6,"t":0.5,"z":1.42},{"p":3,"S":30.6,"t":0.4,"z":1.7},{"p":3,"S":30.6,"t":0.3,"z":2},{"p":3,"S":30.6,"t":0.2,"z":2.4},{"p":3,"S":30.6,"t":0.1,"z":2.9},{"p":3,"S":30.6,"t":0.05,"z":3.15},{"p":3,"S":30.6,"t":0,"z":3.4},
{"p":3,"S":27.2,"t":1,"z":0.1},{"p":3,"S":27.2,"t":0.95,"z":0.15},{"p":3,"S":27.2,"t":0.9,"z":0.22},{"p":3,"S":27.2,"t":0.8,"z":0.38},{"p":3,"S":27.2,"t":0.7,"z":0.5},{"p":3,"S":27.2,"t":0.6,"z":0.72},{"p":3,"S":27.2,"t":0.5,"z":0.97},{"p":3,"S":27.2,"t":0.4,"z":1.2},{"p":3,"S":27.2,"t":0.3,"z":1.45},{"p":3,"S":27.2,"t":0.2,"z":1.8},{"p":3,"S":27.2,"t":0.1,"z":2.15},{"p":3,"S":27.2,"t":0.05,"z":2.3},{"p":3,"S":27.2,"t":0,"z":2.45},
{"p":3,"S":23.8,"t":1,"z":-0.15},{"p":3,"S":23.8,"t":0.95,"z":-0.1},{"p":3,"S":23.8,"t":0.9,"z":-0.05},{"p":3,"S":23.8,"t":0.8,"z":0.05},{"p":3,"S":23.8,"t":0.7,"z":0.15},{"p":3,"S":23.8,"t":0.6,"z":0.3},{"p":3,"S":23.8,"t":0.5,"z":0.5},{"p":3,"S":23.8,"t":0.4,"z":0.7},{"p":3,"S":23.8,"t":0.3,"z":0.92},{"p":3,"S":23.8,"t":0.2,"z":1.2},{"p":3,"S":23.8,"t":0.1,"z":1.5},{"p":3,"S":23.8,"t":0.05,"z":1.65},{"p":3,"S":23.8,"t":0,"z":1.75},
{"p":3,"S":20.4,"t":1,"z":-0.25},{"p":3,"S":20.4,"t":0.95,"z":-0.25},{"p":3,"S":20.4,"t":0.9,"z":-0.22},{"p":3,"S":20.4,"t":0.8,"z":-0.18},{"p":3,"S":20.4,"t":0.7,"z":-0.15},{"p":3,"S":20.4,"t":0.6,"z":-0.05},{"p":3,"S":20.4,"t":0.5,"z":0.12},{"p":3,"S":20.4,"t":0.4,"z":0.3},{"p":3,"S":20.4,"t":0.3,"z":0.5},{"p":3,"S":20.4,"t":0.2,"z":0.72},{"p":3,"S":20.4,"t":0.1,"z":0.95},{"p":3,"S":20.4,"t":0.05,"z":1.05},{"p":3,"S":20.4,"t":0,"z":1.1},
{"p":3,"S":17,"t":1,"z":-0.1},{"p":3,"S":17,"t":0.95,"z":-0.15},{"p":3,"S":17,"t":0.9,"z":-0.18},{"p":3,"S":17,"t":0.8,"z":-0.22},{"p":3,"S":17,"t":0.7,"z":-0.25},{"p":3,"S":17,"t":0.6,"z":-0.2},{"p":3,"S":17,"t":0.5,"z":-0.1},{"p":3,"S":17,"t":0.4,"z":0.05},{"p":3,"S":17,"t":0.3,"z":0.22},{"p":3,"S":17,"t":0.2,"z":0.4},{"p":3,"S":17,"t":0.1,"z":0.6},{"p":3,"S":17,"t":0.05,"z":0.72},{"p":3,"S":17,"t":0,"z":0.8},
{"p":3,"S":13.6,"t":1,"z":0.2},{"p":3,"S":13.6,"t":0.95,"z":0.15},{"p":3,"S":13.6,"t":0.9,"z":0.1},{"p":3,"S":13.6,"t":0.8,"z":0.02},{"p":3,"S":13.6,"t":0.7,"z":-0.05},{"p":3,"S":13.6,"t":0.6,"z":-0.03},{"p":3,"S":13.6,"t":0.5,"z":0.03},{"p":3,"S":13.6,"t":0.4,"z":0.1},{"p":3,"S":13.6,"t":0.3,"z":0.23},{"p":3,"S":13.6,"t":0.2,"z":0.37},{"p":3,"S":13.6,"t":0.1,"z":0.5},{"p":3,"S":13.6,"t":0.05,"z":0.56},{"p":3,"S":13.6,"t":0,"z":0.6},
{"p":3,"S":10.2,"t":1,"z":0.55},{"p":3,"S":10.2,"t":0.95,"z":0.5},{"p":3,"S":10.2,"t":0.9,"z":0.45},{"p":3,"S":10.2,"t":0.8,"z":0.36},{"p":3,"S":10.2,"t":0.7,"z":0.3},{"p":3,"S":10.2,"t":0.6,"z":0.32},{"p":3,"S":10.2,"t":0.5,"z":0.38},{"p":3,"S":10.2,"t":0.4,"z":0.45},{"p":3,"S":10.2,"t":0.3,"z":0.55},{"p":3,"S":10.2,"t":0.2,"z":0.63},{"p":3,"S":10.2,"t":0.1,"z":0.7},{"p":3,"S":10.2,"t":0.05,"z":0.73},{"p":3,"S":10.2,"t":0,"z":0.75},
{"p":3,"S":6.8,"t":1,"z":0.8},{"p":3,"S":6.8,"t":0.95,"z":0.75},{"p":3,"S":6.8,"t":0.9,"z":0.68},{"p":3,"S":6.8,"t":0.8,"z":0.58},{"p":3,"S":6.8,"t":0.7,"z":0.55},{"p":3,"S":6.8,"t":0.6,"z":0.62},{"p":3,"S":6.8,"t":0.5,"z":0.76},{"p":3,"S":6.8,"t":0.4,"z":0.9},{"p":3,"S":6.8,"t":0.3,"z":1.03},{"p":3,"S":6.8,"t":0.2,"z":1.18},{"p":3,"S":6.8,"t":0.1,"z":1.35},{"p":3,"S":6.8,"t":0.05,"z":1.43},{"p":3,"S":6.8,"t":0,"z":1.5},
{"p":3,"S":3.4,"t":1,"z":0.6},{"p":3,"S":3.4,"t":0.95,"z":0.55},{"p":3,"S":3.4,"t":0.9,"z":0.5},{"p":3,"S":3.4,"t":0.8,"z":0.43},{"p":3,"S":3.4,"t":0.7,"z":0.4},{"p":3,"S":3.4,"t":0.6,"z":0.45},{"p":3,"S":3.4,"t":0.5,"z":0.53},{"p":3,"S":3.4,"t":0.4,"z":0.6},{"p":3,"S":3.4,"t":0.3,"z":0.7},{"p":3,"S":3.4,"t":0.2,"z":0.82},{"p":3,"S":3.4,"t":0.1,"z":0.95},{"p":3,"S":3.4,"t":0.05,"z":1.03},{"p":3,"S":3.4,"t":0,"z":1.1},
{"p":3,"S":0,"t":1,"z":0.12},{"p":3,"S":0,"t":0.95,"z":0.1},{"p":3,"S":0,"t":0.9,"z":0.09},{"p":3,"S":0,"t":0.8,"z":0.08},{"p":3,"S":0,"t":0.7,"z":0.07},{"p":3,"S":0,"t":0.6,"z":0.07},{"p":3,"S":0,"t":0.5,"z":0.07},{"p":3,"S":0,"t":0.4,"z":0.07},{"p":3,"S":0,"t":0.3,"z":0.07},{"p":3,"S":0,"t":0.2,"z":0.07},{"p":3,"S":0,"t":0.1,"z":0.08},{"p":3,"S":0,"t":0.05,"z":0.09},{"p":3,"S":0,"t":0,"z":0.1}
]},
"transform":[
{"window":[{"op":"dense_rank","as":"i"}],"sort":[{"field":"S","order":"ascending"}],"groupby":["p","k"]},
{"window":[{"op":"dense_rank","as":"j"}],"sort":[{"field":"t","order":"ascending"}],"groupby":["p","k"]},
{"calculate":"!datum.k?[0,1,2,3]:(datum.k=='S'||datum.k=='T'||datum.k=='Z')?[0,1,2,3,4,5]:datum.k=='A'?[0,1]:[0]","as":"cs"},
{"flatten":["cs"],"as":["c"]},
{"calculate":"!datum.k?'q_'+datum.p+'_'+(datum.i-((datum.c==1||datum.c==2)?1:0))+'_'+(datum.j-((datum.c==2||datum.c==3)?1:0)):datum.k+'_'+datum.p+'_'+datum.v","as":"key"},
{"joinaggregate":[{"op":"count","as":"n4"},{"op":"mean","field":"z","as":"mz"}],"groupby":["key"]},
{"filter":"datum.k||datum.n4==4"},
{"calculate":"datum.p==1?-0.9:datum.p==2?-1.3:-1.31","as":"zmin"},
{"calculate":"datum.p==1?61.6:datum.p==2?62.3:4.12","as":"zmax"},
{"calculate":"(!datum.k||datum.k=='G'||datum.k=='W')?datum.S:datum.k=='S'?datum.v:datum.k=='LS'?80:(datum.k=='T'||datum.k=='Z')?(datum.c==1||datum.c==2?171:datum.c==3?-7.4:datum.c==4?-13.9:-9.9):datum.k=='A'?(datum.v==0&&datum.c==1?171:-9.9):-9.9","as":"X"},
{"calculate":"(!datum.k||datum.k=='G'||datum.k=='W')?datum.t:datum.k=='T'?datum.v:datum.k=='S'?(datum.c==0?-0.062:datum.c==1||datum.c==2?1.062:datum.c==3?-0.05:datum.c==4?-0.082:-0.062):datum.k=='Z'?(datum.c==2?-0.062:1.062):datum.k=='A'?(datum.v==0?-0.062:datum.v==1?(datum.c==0?-0.062:1.062):1.062):datum.k=='LT'?0.5:datum.k=='LS'?-0.062:1.062","as":"Y"},
{"calculate":"(!datum.k||datum.k=='G'||datum.k=='W')?datum.z:datum.k=='Z'?datum.v:(datum.k=='S'||datum.k=='T')?(datum.c==2?datum.zmax:datum.zmin):datum.k=='A'?(datum.v==2&&datum.c==1?datum.zmax:datum.zmin):datum.k=='LZ'?(datum.zmin+datum.zmax)/2:datum.zmin","as":"Z"},
{"calculate":"(datum.X+9.9)/180.9-0.5","as":"ux"},
{"calculate":"(datum.Y+0.062)/1.124-0.5","as":"uy"},
{"calculate":"((datum.Z-datum.zmin)/(datum.zmax-datum.zmin)-0.5)*1.11","as":"uz"},
{"calculate":"10+0.433*datum.ux+0.75*datum.uy-0.5*datum.uz","as":"d"},
{"calculate":"10+0.433*datum.ux+0.75*datum.uy+0.2775-0.33*(datum.uz+0.555)","as":"dh"},
{"calculate":"datum.k=='H'?732+(datum.p-1)*1288.5:(datum.p-1)*1288.5+751+8450*(0.866*datum.ux-0.5*datum.uy)/datum.dh","as":"px"},
{"calculate":"datum.k=='H'?45:717-6100*(0.25*datum.ux+0.433*datum.uy+0.866*datum.uz-0.024*max(0,datum.ux+datum.uy)*(datum.uz+0.555))/datum.d","as":"py"},
{"calculate":"datum.p==3?clamp((datum.mz+1)/4.9,0,1):datum.mz/60","as":"cv"},
{"calculate":"datum.k=='G'?datum.n:datum.k=='W'?1-datum.t:datum.c","as":"ord"},
{"calculate":"datum.k=='T'?format(datum.v,'.1f'):datum.k=='S'||datum.k=='Z'?((datum.v<0?'\u2212':'')+abs(datum.v)):datum.txt","as":"lab"}
],
"encoding":{"x":{"field":"px","type":"quantitative","scale":{"domain":[0,3958],"nice":false,"zero":false},"axis":null},"y":{"field":"py","type":"quantitative","scale":{"domain":[1360,0],"nice":false,"zero":false},"axis":null}},
"layer":[
{"transform":[{"filter":"(datum.k=='S'||datum.k=='T'||datum.k=='Z')&&datum.c<=2"}],"mark":{"type":"line","stroke":"#b0b0b0","strokeWidth":3.2},"encoding":{"detail":{"field":"key"},"order":{"field":"ord"}}},
{"transform":[{"filter":"datum.k=='G'"}],"mark":{"type":"line","fill":"#c8c8c8","fillOpacity":0.35,"strokeOpacity":0},"encoding":{"detail":{"field":"key"},"order":{"field":"ord"}}},
{"transform":[{"filter":"datum.k=='W'"}],"mark":{"type":"line","fill":"#3b5a8b","stroke":"#3b5a8b","strokeWidth":0.5},"encoding":{"detail":{"field":"key"},"order":{"field":"ord"}}},
{"transform":[{"filter":"!datum.k"}],"mark":{"type":"line","strokeWidth":1.2},"encoding":{"detail":{"field":"key"},"order":{"field":"ord"},"fill":{"field":"cv","type":"quantitative","scale":{"scheme":"viridis","domain":[0,1]},"legend":null},"stroke":{"field":"cv","type":"quantitative","scale":{"scheme":"viridis","domain":[0,1]},"legend":null}}},
{"transform":[{"filter":"datum.k=='A'"}],"mark":{"type":"line","stroke":"black","strokeWidth":3},"encoding":{"detail":{"field":"key"},"order":{"field":"ord"}}},
{"transform":[{"filter":"(datum.k=='S'||datum.k=='T'||datum.k=='Z')&&(datum.c==3||datum.c==4)"}],"mark":{"type":"line","stroke":"black","strokeWidth":3},"encoding":{"detail":{"field":"key"},"order":{"field":"ord"}}},
{"transform":[{"filter":"datum.k=='S'&&datum.c==5"}],"mark":{"type":"text","font":"DejaVu Sans","fontSize":33,"dx":27,"dy":65,"baseline":"middle","align":"center"},"encoding":{"text":{"field":"lab"}}},
{"transform":[{"filter":"datum.k=='T'&&datum.c==5"}],"mark":{"type":"text","font":"DejaVu Sans","fontSize":33,"dx":-46,"dy":60,"baseline":"middle","align":"center"},"encoding":{"text":{"field":"lab"}}},
{"transform":[{"filter":"datum.k=='Z'&&datum.c==5"}],"mark":{"type":"text","font":"DejaVu Sans","fontSize":33,"dx":-63,"dy":10,"baseline":"middle","align":"center"},"encoding":{"text":{"field":"lab"}}},
{"transform":[{"filter":"datum.k=='H'"}],"mark":{"type":"text","font":"DejaVu Sans","fontSize":40,"baseline":"middle","align":"center"},"encoding":{"text":{"field":"lab"}}},
{"transform":[{"filter":"datum.k=='LS'"}],"mark":{"type":"text","font":"DejaVu Sans","fontSize":34,"angle":346,"dx":26,"dy":118,"baseline":"middle","align":"center"},"encoding":{"text":{"field":"lab"}}},
{"transform":[{"filter":"datum.k=='LT'"}],"mark":{"type":"text","font":"DejaVu Sans","fontSize":34,"angle":38,"dx":-15,"dy":127,"baseline":"middle","align":"center"},"encoding":{"text":{"field":"lab"}}},
{"transform":[{"filter":"datum.k=='LZ'"}],"mark":{"type":"text","font":"DejaVu Sans","fontSize":34,"angle":88,"dx":-5,"dy":138,"baseline":"middle","align":"center"},"encoding":{"text":{"field":"lab"}}}
]}
